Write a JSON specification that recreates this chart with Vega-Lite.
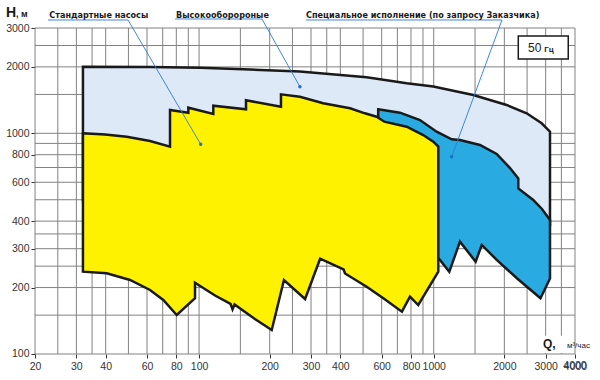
{
  "$schema": "https://vega.github.io/schema/vega-lite/v6.json",
  "width": 540,
  "height": 326,
  "autosize": {"type": "none"},
  "padding": {"left": 35, "top": 28, "right": 25, "bottom": 26},
  "background": "white",
  "config": {"view": {"stroke": null}, "font": "Liberation Sans"},
  "datasets": {
    "gridx": [
      {"q": 20}, {"q": 25}, {"q": 30}, {"q": 35}, {"q": 40}, {"q": 50}, {"q": 60}, {"q": 70}, {"q": 80}, {"q": 90},
      {"q": 100}, {"q": 150}, {"q": 200}, {"q": 250}, {"q": 300}, {"q": 350}, {"q": 400}, {"q": 500}, {"q": 600},
      {"q": 700}, {"q": 800}, {"q": 900}, {"q": 1000}, {"q": 1500}, {"q": 2000}, {"q": 2500}, {"q": 3000}, {"q": 3500}, {"q": 4000}
    ],
    "gridy": [
      {"h": 100}, {"h": 150}, {"h": 200}, {"h": 250}, {"h": 300}, {"h": 350}, {"h": 400}, {"h": 500}, {"h": 600},
      {"h": 700}, {"h": 800}, {"h": 900}, {"h": 1000}, {"h": 1500}, {"h": 2000}, {"h": 2500}, {"h": 3000}
    ],
    "blue": [
      {"i": 1, "q": 32, "h": 2000}, {"i": 2, "q": 61.8, "h": 1997}, {"i": 3, "q": 101, "h": 1983},
      {"i": 4, "q": 165, "h": 1946}, {"i": 5, "q": 269, "h": 1905}, {"i": 6, "q": 518, "h": 1793},
      {"i": 7, "q": 767, "h": 1685}, {"i": 8, "q": 996, "h": 1629}, {"i": 9, "q": 1474, "h": 1491},
      {"i": 10, "q": 2046, "h": 1344}, {"i": 11, "q": 2490, "h": 1232}, {"i": 12, "q": 2884, "h": 1110},
      {"i": 13, "q": 3130, "h": 1017}, {"i": 14, "q": 3130, "h": 384}, {"i": 15, "q": 1916, "h": 365},
      {"i": 16, "q": 964, "h": 499}, {"i": 17, "q": 32, "h": 499}
    ],
    "cyan": [
      {"i": 1, "q": 580, "h": 1284}, {"i": 2, "q": 718, "h": 1240}, {"i": 3, "q": 874, "h": 1149},
      {"i": 4, "q": 1029, "h": 1017}, {"i": 5, "q": 1193, "h": 939}, {"i": 6, "q": 1294, "h": 932},
      {"i": 7, "q": 1574, "h": 885}, {"i": 8, "q": 1855, "h": 806}, {"i": 9, "q": 2114, "h": 696},
      {"i": 10, "q": 2293, "h": 625}, {"i": 11, "q": 2293, "h": 563}, {"i": 12, "q": 2656, "h": 499},
      {"i": 13, "q": 2892, "h": 454}, {"i": 14, "q": 3130, "h": 405}, {"i": 15, "q": 3130, "h": 220},
      {"i": 16, "q": 2850, "h": 179}, {"i": 17, "q": 2256, "h": 221}, {"i": 18, "q": 1855, "h": 267},
      {"i": 19, "q": 1602, "h": 312}, {"i": 20, "q": 1509, "h": 262}, {"i": 21, "q": 1294, "h": 323},
      {"i": 22, "q": 1165, "h": 236}, {"i": 23, "q": 1063, "h": 267}, {"i": 24, "q": 964, "h": 296},
      {"i": 25, "q": 718, "h": 840}, {"i": 26, "q": 580, "h": 1091}
    ],
    "yellow": [
      {"i": 1, "q": 32, "h": 1000}, {"i": 2, "q": 39.8, "h": 988}, {"i": 3, "q": 49.2, "h": 965},
      {"i": 4, "q": 61.8, "h": 923}, {"i": 5, "q": 75.2, "h": 870}, {"i": 6, "q": 75.2, "h": 1275},
      {"i": 7, "q": 90, "h": 1240}, {"i": 8, "q": 90, "h": 1306}, {"i": 9, "q": 115, "h": 1223},
      {"i": 10, "q": 115, "h": 1334}, {"i": 11, "q": 158.5, "h": 1284}, {"i": 12, "q": 158.5, "h": 1411},
      {"i": 13, "q": 223.4, "h": 1320}, {"i": 14, "q": 223.4, "h": 1502}, {"i": 15, "q": 269, "h": 1465},
      {"i": 16, "q": 338, "h": 1368}, {"i": 17, "q": 440, "h": 1298}, {"i": 18, "q": 509, "h": 1232},
      {"i": 19, "q": 571, "h": 1189}, {"i": 20, "q": 616, "h": 1129}, {"i": 21, "q": 767, "h": 1071},
      {"i": 22, "q": 902, "h": 982}, {"i": 23, "q": 996, "h": 916}, {"i": 24, "q": 1046, "h": 871},
      {"i": 25, "q": 1046, "h": 236}, {"i": 26, "q": 859, "h": 166.7}, {"i": 27, "q": 792, "h": 181.8},
      {"i": 28, "q": 732, "h": 155.5}, {"i": 29, "q": 610, "h": 178.8}, {"i": 30, "q": 518, "h": 201.8},
      {"i": 31, "q": 419, "h": 231.6}, {"i": 32, "q": 413, "h": 241.5}, {"i": 33, "q": 328, "h": 270.3},
      {"i": 34, "q": 283, "h": 177.5}, {"i": 35, "q": 230, "h": 216.4}, {"i": 36, "q": 204, "h": 128.4},
      {"i": 37, "q": 173, "h": 144}, {"i": 38, "q": 141.6, "h": 167.6}, {"i": 39, "q": 138.9, "h": 159.4},
      {"i": 40, "q": 136.2, "h": 168.5}, {"i": 41, "q": 117, "h": 184.1}, {"i": 42, "q": 96.1, "h": 210.4},
      {"i": 43, "q": 96.1, "h": 178.8}, {"i": 44, "q": 80.3, "h": 150.2}, {"i": 45, "q": 70.4, "h": 175.7},
      {"i": 46, "q": 61.8, "h": 195}, {"i": 47, "q": 50.8, "h": 216.4}, {"i": 48, "q": 40.4, "h": 232.1},
      {"i": 49, "q": 32, "h": 236}
    ],
    "leaders": [
      {"id": "a", "i": 1, "q": 22.7, "h": 3262}, {"id": "a", "i": 2, "q": 49.8, "h": 3262}, {"id": "a", "i": 3, "q": 101.6, "h": 892},
      {"id": "b", "i": 1, "q": 79, "h": 3296}, {"id": "b", "i": 2, "q": 185.4, "h": 3296}, {"id": "b", "i": 3, "q": 269, "h": 1626},
      {"id": "c", "i": 1, "q": 285.6, "h": 3262}, {"id": "c", "i": 2, "q": 1954, "h": 3262}, {"id": "c", "i": 3, "q": 1193, "h": 783}
    ],
    "dots": [
      {"q": 101.6, "h": 892}, {"q": 269, "h": 1626}, {"q": 1193, "h": 783}
    ],
    "notes": [
      {"q": 23.0, "h": 3347, "t": "Стандартные насосы"},
      {"q": 79.8, "h": 3347, "t": "Высокооборороные"},
      {"q": 285.6, "h": 3347, "t": "Специальное исполнение (по запросу Заказчика)"}
    ]
  },
  "encoding": {
    "x": {
      "field": "q", "type": "quantitative",
      "scale": {"type": "log", "domain": [19.99, 4000.5], "nice": false},
      "axis": {
        "title": null, "domain": false, "grid": false, "format": "d", "tickCount": 50,
        "values": [20, 30, 40, 60, 80, 100, 200, 300, 400, 600, 800, 1000, 2000, 3000, 4000],
        "labelFlush": false, "labelOverlap": false, "labelBound": false,
        "labelFontSize": 10.5, "labelColor": "#333333", "labelFont": "Liberation Sans",
        "tickSize": 4, "tickColor": "#333333", "labelPadding": 3
      }
    },
    "y": {
      "field": "h", "type": "quantitative",
      "scale": {"type": "log", "domain": [99.99, 3000.4], "nice": false},
      "axis": {
        "title": null, "domain": false, "grid": false, "format": "d", "tickCount": 50,
        "values": [100, 200, 300, 400, 600, 800, 1000, 2000, 3000],
        "labelFlush": false, "labelOverlap": false, "labelBound": false,
        "labelFontSize": 10.5, "labelColor": "#333333", "labelFont": "Liberation Sans",
        "tickSize": 4, "tickColor": "#333333", "labelPadding": 2
      }
    }
  },
  "layer": [
    {
      "data": {"name": "gridx"},
      "mark": {"type": "rule", "stroke": "#828282", "strokeWidth": 1},
      "encoding": {"y": null}
    },
    {
      "data": {"name": "gridy"},
      "mark": {"type": "rule", "stroke": "#828282", "strokeWidth": 1},
      "encoding": {"x": null}
    },
    {
      "data": {"name": "blue"},
      "mark": {"type": "line", "interpolate": "linear-closed", "fill": "#dde9f6", "stroke": "#1a1a1a", "strokeWidth": 2.5},
      "encoding": {"order": {"field": "i", "type": "quantitative"}}
    },
    {
      "data": {"name": "cyan"},
      "mark": {"type": "line", "interpolate": "linear-closed", "fill": "#29abe2", "stroke": "#1a1a1a", "strokeWidth": 2.5},
      "encoding": {"order": {"field": "i", "type": "quantitative"}}
    },
    {
      "data": {"name": "yellow"},
      "mark": {"type": "line", "interpolate": "linear-closed", "fill": "#fff200", "stroke": "#1a1a1a", "strokeWidth": 2.5},
      "encoding": {"order": {"field": "i", "type": "quantitative"}}
    },
    {
      "data": {"name": "leaders"},
      "mark": {"type": "line", "stroke": "#2b7bd0", "strokeWidth": 0.9},
      "encoding": {"detail": {"field": "id"}, "order": {"field": "i", "type": "quantitative"}}
    },
    {
      "data": {"name": "dots"},
      "mark": {"type": "point", "filled": true, "fill": "#1f6fc5", "size": 12, "opacity": 1}
    },
    {
      "data": {"name": "notes"},
      "mark": {"type": "text", "align": "left", "baseline": "alphabetic", "fontSize": 9, "fontWeight": "bold", "font": "'Liberation Sans Narrow', 'DejaVu Sans Condensed', 'Liberation Sans'", "fill": "#1a1a1a"},
      "encoding": {"text": {"field": "t"}}
    },
    {
      "data": {"values": [{"q": 2700, "q2": 3900, "h": 101, "h2": 121}]},
      "mark": {"type": "rect", "fill": "white"},
      "encoding": {"x2": {"field": "q2"}, "y2": {"field": "h2"}}
    },
    {
      "data": {"values": [{"q": 2293, "q2": 3744, "h": 2171, "h2": 2760}]},
      "mark": {"type": "rect", "fill": "white", "stroke": "#1a1a1a", "strokeWidth": 1.5},
      "encoding": {"x2": {"field": "q2"}, "y2": {"field": "h2"}}
    },
    {
      "data": {"values": [{"q": 2522, "h": 2343, "t": "50"}]},
      "mark": {"type": "text", "align": "left", "baseline": "alphabetic", "fontSize": 12, "fill": "#1a1a1a"},
      "encoding": {"text": {"field": "t"}}
    },
    {
      "data": {"values": [{"q": 2960, "h": 2343, "t": "Гц"}]},
      "mark": {"type": "text", "align": "left", "baseline": "alphabetic", "fontSize": 8, "fontWeight": "bold", "fill": "#1a1a1a"},
      "encoding": {"text": {"field": "t"}}
    },
    {
      "data": {"values": [{"q": 15.04, "h": 3376, "t": "H"}]},
      "mark": {"type": "text", "align": "left", "baseline": "alphabetic", "fontSize": 14, "fontWeight": "bold", "fill": "#1a1a1a"},
      "encoding": {"text": {"field": "t"}}
    },
    {
      "data": {"values": [{"q": 16.6, "h": 3376, "t": ", м"}]},
      "mark": {"type": "text", "align": "left", "baseline": "alphabetic", "fontSize": 9, "fontWeight": "bold", "fill": "#1a1a1a"},
      "encoding": {"text": {"field": "t"}}
    },
    {
      "data": {"values": [{"q": 2922, "h": 107, "t": "Q,"}]},
      "mark": {"type": "text", "align": "left", "baseline": "alphabetic", "fontSize": 12, "fontWeight": "bold", "fill": "#1a1a1a"},
      "encoding": {"text": {"field": "t"}}
    },
    {
      "data": {"values": [{"q": 3696, "h": 107, "t": "м³/час"}]},
      "mark": {"type": "text", "align": "left", "baseline": "alphabetic", "fontSize": 8, "fill": "#1a1a1a"},
      "encoding": {"text": {"field": "t"}}
    },
    {
      "data": {"values": [{"q": 4000, "h": 92.96, "t": "4000"}]},
      "mark": {"type": "text", "align": "center", "baseline": "top", "fontSize": 10.5, "font": "Liberation Sans", "fill": "#333333"},
      "encoding": {"text": {"field": "t"}}
    }
  ]
}
